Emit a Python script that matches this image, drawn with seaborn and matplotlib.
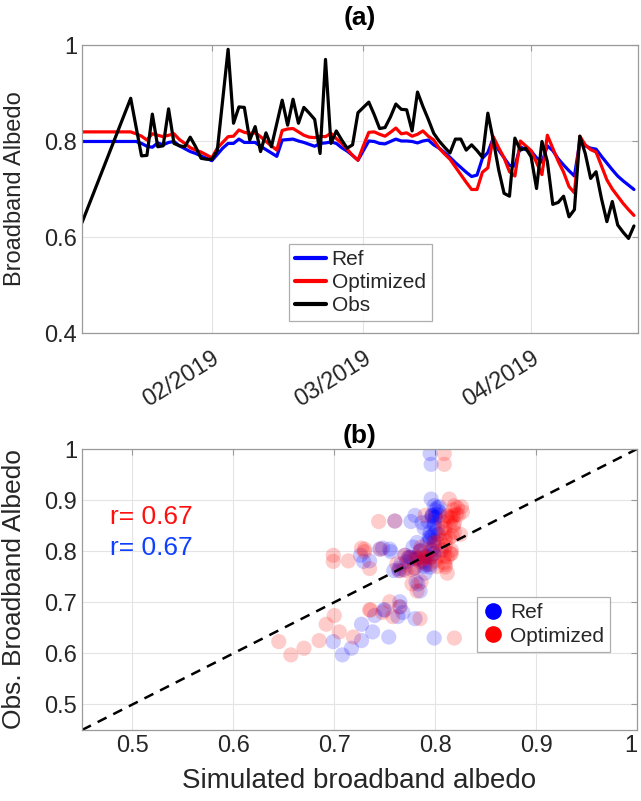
import numpy as np
import pandas as pd
import matplotlib
matplotlib.use("Agg")
import matplotlib.pyplot as plt
from matplotlib.lines import Line2D
import seaborn as sns

# ---------------- data (daily, starting 2019-01-08) ----------------
start_date = "2019-01-08"
nan = np.nan
obs = [0.630, nan, nan, nan, nan, nan, nan, nan, nan, 0.889,
       nan, 0.769, 0.770, 0.856, 0.788, 0.790, 0.867, 0.795, 0.790, 0.788,
       0.808, 0.788, 0.764, 0.762, 0.762, 0.780, nan, 0.991, 0.837, 0.871,
       0.870, 0.802, 0.830, 0.778, 0.817, 0.788, nan, 0.885, 0.833, 0.887,
       0.837, 0.870, 0.858, 0.845, 0.774, 0.970, 0.795, 0.821, 0.802, 0.785,
       0.792, 0.859, 0.870, 0.881, 0.855, 0.826, 0.828, 0.850, 0.877, 0.866,
       0.865, 0.821, 0.902, 0.872, 0.845, 0.816, 0.800, 0.787, 0.775, 0.804,
       0.804, 0.781, 0.792, 0.780, 0.766, 0.858, 0.802, 0.740, 0.691, 0.685,
       0.806, 0.781, 0.785, 0.767, 0.701, 0.799, 0.757, 0.668, 0.672, 0.685,
       0.642, 0.657, 0.810, 0.774, 0.722, 0.736, 0.680, 0.632, 0.674, 0.625,
       0.610, 0.597, 0.623]
ref = [0.799, 0.799, 0.799, 0.799, 0.799, 0.799, 0.799, 0.799, 0.799, 0.799,
       0.799, 0.795, 0.789, 0.787, 0.796, 0.792, 0.797, 0.799, 0.790, 0.784,
       0.778, 0.774, 0.769, 0.764, 0.759, 0.772, 0.785, 0.795, 0.795, 0.804,
       0.797, 0.797, 0.797, 0.789, 0.782, 0.775, 0.768, 0.802, 0.803, 0.804,
       0.800, 0.797, 0.793, 0.789, 0.795, 0.796, 0.798, 0.795, 0.786, 0.779,
       0.770, 0.760, 0.780, 0.800, 0.799, 0.795, 0.794, 0.799, 0.804, 0.800,
       0.800, 0.799, 0.796, 0.800, 0.802, 0.792, 0.785, 0.776, 0.766, 0.755,
       0.745, 0.735, 0.726, 0.729, 0.764, 0.776, 0.806, 0.781, 0.765, 0.749,
       0.748, 0.788, 0.782, 0.779, 0.765, 0.756, 0.790, 0.780, 0.763, 0.750,
       0.738, 0.727, 0.799, 0.790, 0.785, 0.783, 0.768, 0.754, 0.740, 0.727,
       0.717, 0.708, 0.699]
opt = [0.819, 0.819, 0.819, 0.819, 0.819, 0.819, 0.819, 0.819, 0.819, 0.819,
       0.815, 0.810, 0.802, 0.815, 0.812, 0.809, 0.812, 0.815, 0.803, 0.795,
       0.786, 0.781, 0.777, 0.771, 0.765, 0.785, 0.797, 0.809, 0.810, 0.823,
       0.818, 0.816, 0.817, 0.809, 0.799, 0.790, 0.781, 0.822, 0.825, 0.826,
       0.819, 0.812, 0.808, 0.807, 0.810, 0.809, 0.816, 0.805, 0.795, 0.783,
       0.770, 0.760, 0.790, 0.818, 0.819, 0.814, 0.810, 0.818, 0.827, 0.815,
       0.817, 0.810, 0.814, 0.821, 0.810, 0.802, 0.785, 0.773, 0.762, 0.746,
       0.730, 0.714, 0.699, 0.699, 0.735, 0.744, 0.809, 0.786, 0.765, 0.736,
       0.727, 0.800, 0.790, 0.780, 0.755, 0.730, 0.812, 0.785, 0.758, 0.735,
       0.705, 0.692, 0.810, 0.792, 0.782, 0.777, 0.748, 0.719, 0.700, 0.685,
       0.670, 0.657, 0.645]

month_ticks = ["2019-02-01", "2019-03-01", "2019-04-01"]
month_labels = ["02/2019", "03/2019", "04/2019"]
series_names = ["Ref", "Optimized", "Obs"]
series_colors = {"Ref": "#0000ff", "Optimized": "#ff0000", "Obs": "#000000"}
r_texts = ["r= 0.67", "r= 0.67"]
r_colors = ["#ff1010", "#1040ff"]
top_yticks = [0.4, 0.6, 0.8, 1.0]
top_yticklabels = ["0.4", "0.6", "0.8", "1"]
bot_ticks = [0.5, 0.6, 0.7, 0.8, 0.9, 1.0]
bot_ticklabels = ["0.5", "0.6", "0.7", "0.8", "0.9", "1"]

# ---------------- build tables ----------------
dates = pd.date_range(start_date, periods=len(obs), freq="D")
ts = pd.DataFrame({"date": dates, "Ref": ref, "Optimized": opt, "Obs": obs})
long_ts = ts.melt(id_vars="date", var_name="Series", value_name="albedo")

paired = ts.dropna(subset=["Obs"])
scat = pd.concat([
    pd.DataFrame({"sim": paired["Ref"], "obs": paired["Obs"], "Series": "Ref"}),
    pd.DataFrame({"sim": paired["Optimized"], "obs": paired["Obs"], "Series": "Optimized"}),
], ignore_index=True)

# ---------------- style ----------------
sns.set_theme(style="white")
plt.rcParams["font.family"] = ["Liberation Sans", "DejaVu Sans"]
text_col = "#262626"
spine_col = "#9a9a9a"
grid_col = "#e4e4e4"

W, H = 641, 801
fig = plt.figure(figsize=(W / 100, H / 100), dpi=100)
ax1 = fig.add_axes([82 / W, 1 - 333 / H, 556 / W, 288 / H])
ax2 = fig.add_axes([82 / W, 1 - 730 / H, 555 / W, 281 / H])

# ---------------- panel (a) ----------------
for name in series_names:
    sub = long_ts[long_ts["Series"] == name].dropna()
    sns.lineplot(data=sub, x="date", y="albedo", color=series_colors[name],
                 lw=2.3, ax=ax1, legend=False)

ax1.set_xlim(dates[0], dates[-1] + pd.Timedelta(hours=18))
ax1.set_ylim(0.4, 1.0)
ax1.set_yticks(top_yticks)
ax1.set_yticklabels(top_yticklabels)
ax1.set_xticks(pd.to_datetime(month_ticks))
ax1.set_xticklabels(month_labels, rotation=32, ha="right", rotation_mode="anchor")
ax1.set_xlabel("")
ax1.set_ylabel("Broadband Albedo", fontsize=17, color=text_col)
ax1.yaxis.set_label_coords(-0.1, 0.5)

handles = [Line2D([], [], color=series_colors[n], lw=3) for n in series_names]
leg1 = ax1.legend(handles, series_names, loc="lower left", bbox_to_anchor=(0.372, 0.04),
                  fontsize=15, frameon=True, fancybox=False, handlelength=1.5,
                  handletextpad=0.25, borderpad=0.3, labelspacing=0.2,
                  borderaxespad=0)
leg1.get_frame().set_edgecolor(spine_col)
leg1.get_frame().set_linewidth(0.9)

# ---------------- panel (b) ----------------
sns.scatterplot(data=scat, x="sim", y="obs", hue="Series",
                palette={"Ref": "#0000ff", "Optimized": "#ff0000"},
                hue_order=["Ref", "Optimized"], s=120, alpha=0.2,
                edgecolor="none", ax=ax2, legend=False)
ax2.plot([0.45, 1.0], [0.45, 1.0], ls=(0, (4, 3)), color="black", lw=1.8)
ax2.set_xlim(0.45, 1.0)
ax2.set_ylim(0.45, 1.0)
ax2.set_xticks(bot_ticks)
ax2.set_xticklabels(bot_ticklabels)
ax2.set_yticks(bot_ticks)
ax2.set_yticklabels(bot_ticklabels)
ax2.set_xlabel("Simulated broadband albedo", fontsize=20, color=text_col)
ax2.set_ylabel("Obs. Broadband Albedo", fontsize=19, color=text_col)
ax2.yaxis.set_label_coords(-0.1, 0.5)
ax2.xaxis.set_label_coords(0.5, -0.135)

ax2.text(0.478, 0.867, r_texts[0], color=r_colors[0], fontsize=19, va="center", ha="left")
ax2.text(0.478, 0.806, r_texts[1], color=r_colors[1], fontsize=19, va="center", ha="left")

mh = [Line2D([], [], marker="o", ls="none", color=c, markersize=12, markeredgewidth=0)
      for c in ["#0000ff", "#ff0000"]]
leg2 = ax2.legend(mh, ["Ref", "Optimized"], loc="lower left", bbox_to_anchor=(0.711, 0.278),
                  fontsize=15, frameon=True, fancybox=False, handlelength=1.0,
                  handletextpad=0.3, borderpad=0.3, labelspacing=0.2, borderaxespad=0)
leg2.get_frame().set_edgecolor(spine_col)
leg2.get_frame().set_linewidth(0.9)

# ---------------- common axis styling ----------------
for ax in (ax1, ax2):
    ax.grid(True, color=grid_col, lw=0.8)
    ax.set_axisbelow(True)
    for sp in ax.spines.values():
        sp.set_visible(True)
        sp.set_color(spine_col)
        sp.set_linewidth(0.9)
    ax.tick_params(axis="both", direction="in", length=4, width=0.8,
                   colors=spine_col, labelcolor=text_col, labelsize=17,
                   top=True, right=True)
ax1.tick_params(axis="x", pad=10)
ax2.get_xticklabels()[-1].set_horizontalalignment("right")

fig.text((82 + 278) / W, 1 - 18 / H, "(a)", ha="center", va="center",
         fontsize=19, fontweight="bold", color="black")
fig.text((82 + 278) / W, 1 - 436 / H, "(b)", ha="center", va="center",
         fontsize=19, fontweight="bold", color="black")

fig.savefig("out.png", dpi=100)
